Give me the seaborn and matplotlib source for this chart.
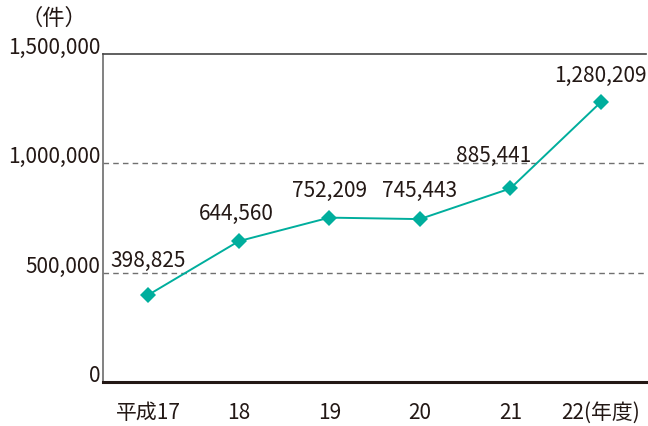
import numpy as np
import pandas as pd
import seaborn as sns
import matplotlib.pyplot as plt

# data
years = ['平成17', '18', '19', '20', '21', '22(年度)']
counts = [398825, 644560, 752209, 745443, 885441, 1280209]
yticks = [0, 500000, 1000000, 1500000]
ytick_labels = ['0', '500,000', '1,000,000', '1,500,000']

df = pd.DataFrame({'pos': np.arange(len(years)), 'count': counts})

sns.set_style('white')
plt.rcParams['font.family'] = ['Noto Sans CJK JP', 'DejaVu Sans']

teal = '#00ae9d'
ink = '#231815'

fig = plt.figure(figsize=(6.48, 4.26), dpi=100)
ax = fig.add_axes([0.159, 0.103, 0.838, 0.770])

sns.lineplot(data=df, x='pos', y='count', ax=ax, color=teal, linewidth=1.4,
             marker='D', markersize=8, markeredgewidth=0, zorder=3)

ax.set_xlim(-0.5, 5.5)
ax.set_ylim(0, 1500000)

# dashed grid lines
for v in [500000, 1000000]:
    ax.axhline(v, color='#707070', linestyle=(0, (4, 3)), linewidth=1, zorder=1)

# y axis
ax.set_yticks(yticks)
ax.set_yticklabels(ytick_labels, fontsize=15, color=ink)
for lab in ax.get_yticklabels():
    lab.set_verticalalignment('baseline')
ax.tick_params(axis='y', length=0, pad=2)

# x axis: labels at centres, tick marks between categories
ax.set_xticks(df['pos'])
ax.set_xticklabels(years, fontsize=15, color=ink)
ax.tick_params(axis='x', which='major', length=0, pad=14)
ax.set_xticks(np.arange(0.5, 5.0, 1.0), minor=True)
ax.tick_params(axis='x', which='minor', direction='in', length=7, width=1.5, color=ink)

ax.set_xlabel('')
ax.set_ylabel('')

ax.spines['right'].set_visible(False)
ax.spines['bottom'].set_color(ink)
ax.spines['bottom'].set_linewidth(2.2)
ax.spines['left'].set_color('#777777')
ax.spines['left'].set_linewidth(1.3)
ax.spines['top'].set_color('#444444')
ax.spines['top'].set_linewidth(1.2)

# value labels
offsets = [(0, 34), (-2, 27), (0, 27), (0, 28), (-17, 33), (0, 26)]
for i, (c, off) in enumerate(zip(counts, offsets)):
    ax.annotate(f'{c:,}', (i, c), xytext=off, textcoords='offset pixels',
                ha='center', va='center', fontsize=15, color=ink)

fig.text(0.083, 0.957, '（件）', fontsize=16, color=ink, ha='center', va='center')

fig.savefig('out.png', dpi=100)
